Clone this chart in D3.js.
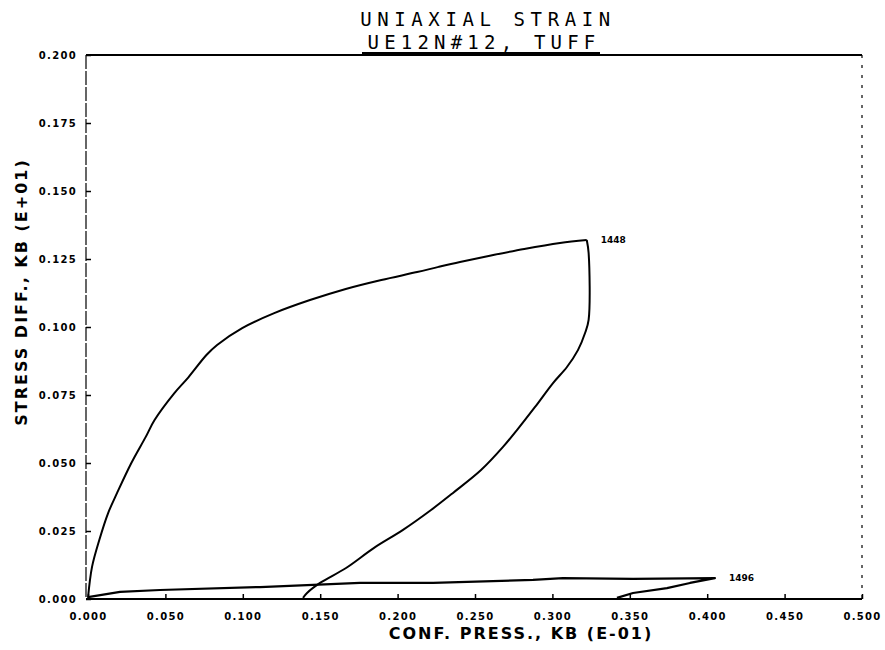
<!DOCTYPE html>
<html>
<head>
<meta charset="utf-8">
<script src="https://cdn.jsdelivr.net/npm/d3@7"></script>
<style>
  html, body { margin: 0; padding: 0; background: #fff; }
  svg { display: block; }
</style>
</head>
<body>
<svg id="chart" width="885" height="650"></svg>
<script>
// ---- data (conf. press. KB E-01, stress diff. KB E+01) ----
const xTicks = [0.000, 0.050, 0.100, 0.150, 0.200, 0.250, 0.300, 0.350, 0.400, 0.450, 0.500];
const yTicks = [0.000, 0.025, 0.050, 0.075, 0.100, 0.125, 0.150, 0.175, 0.200];
const xTickLabels = ["0.000","0.050","0.100","0.150","0.200","0.250","0.300","0.350","0.400","0.450","0.500"];
const yTickLabels = ["0.000","0.025","0.050","0.075","0.100","0.125","0.150","0.175","0.200"];

// loading branch up to point 1448
const loadPress = [0.0000,0.0026,0.0073,0.0130,0.0188,0.0280,0.0373,0.0430,0.0558,0.0650,0.0765,0.0834,0.0996,0.1203,0.1434,0.1665,0.1895,0.2126,0.2265,0.2403,0.2588,0.2818,0.3049,0.3222];
const loadStress = [0.0004,0.0118,0.0217,0.0316,0.0390,0.0500,0.0596,0.0658,0.0757,0.0816,0.0897,0.0934,0.0996,0.1051,0.1099,0.1140,0.1173,0.1202,0.1221,0.1239,0.1261,0.1287,0.1309,0.1320];
// unloading branch from point 1448
const unloadPress = [0.3222,0.3234,0.3234,0.3211,0.3165,0.3094,0.3004,0.2888,0.2771,0.2681,0.2539,0.2358,0.2216,0.2035,0.1848,0.1667,0.1499,0.1415,0.1389];
const unloadStress = [0.1320,0.1272,0.1026,0.0978,0.0915,0.0853,0.0794,0.0706,0.0621,0.0559,0.0474,0.0390,0.0327,0.0254,0.0188,0.0114,0.0059,0.0022,0.0004];
// low stress loop out to point 1496
const lowPress = [0.0000,0.0207,0.0465,0.1111,0.1757,0.2229,0.2875,0.3068,0.3521,0.4050,0.3889,0.3740,0.3521,0.3417];
const lowStress = [0.0007,0.0026,0.0033,0.0044,0.0059,0.0059,0.0070,0.0077,0.0074,0.0077,0.0059,0.0040,0.0022,0.0004];

const pointLabels = [
  {text: "1448", x: 0.3222, y: 0.1320},
  {text: "1496", x: 0.4050, y: 0.0077}
];

const titleLines = ["UNIAXIAL STRAIN", "UE12N#12, TUFF"];
const xTitle = "CONF. PRESS., KB (E-01)";
const yTitle = "STRESS DIFF., KB (E+01)";

// ---- drawing ----
const svg = d3.select("#chart");
const x = d3.scaleLinear().domain([0, 0.5]).range([88, 862]);
const y = d3.scaleLinear().domain([0, 0.2]).range([599, 55]);

// frame
const frame = svg.append("g").attr("stroke", "#000").attr("fill", "none");
frame.append("line").attr("x1", x(0) - 2).attr("x2", x(0.5)).attr("y1", y(0.2)).attr("y2", y(0.2)).attr("stroke-width", 1.8);
frame.append("line").attr("x1", x(0) - 2).attr("x2", x(0.5)).attr("y1", y(0)).attr("y2", y(0)).attr("stroke-width", 1.8);
frame.append("line").attr("x1", x(0) - 2).attr("x2", x(0) - 2).attr("y1", y(0.2)).attr("y2", y(0)).attr("stroke-width", 1.2).attr("stroke-dasharray", "14,2");
frame.append("line").attr("x1", x(0.5)).attr("x2", x(0.5)).attr("y1", y(0.2)).attr("y2", y(0)).attr("stroke-width", 1.2).attr("stroke-dasharray", "3,7");

// y axis
const yAxis = d3.axisLeft(y).tickValues(yTicks)
  .tickFormat((d, i) => yTickLabels[i]).tickSizeInner(-5).tickSizeOuter(0).tickPadding(9);
const gy = svg.append("g").attr("transform", `translate(${x(0) - 2},0)`).call(yAxis);
gy.select(".domain").remove();
gy.selectAll(".tick line").attr("stroke", "#000").attr("stroke-width", 1.5);
gy.selectAll(".tick text").attr("font-family", "DejaVu Sans").attr("font-weight", "bold")
  .attr("font-size", 10).attr("letter-spacing", "1.3px").attr("fill", "#000");

// x axis
const xAxis = d3.axisBottom(x).tickValues(xTicks)
  .tickFormat((d, i) => xTickLabels[i]).tickSizeInner(-5).tickSizeOuter(0).tickPadding(14);
const gx = svg.append("g").attr("transform", `translate(0,${y(0)})`).call(xAxis);
gx.select(".domain").remove();
gx.selectAll(".tick line").attr("stroke", "#000").attr("stroke-width", 1.5);
gx.selectAll(".tick text").attr("font-family", "DejaVu Sans").attr("font-weight", "bold")
  .attr("font-size", 10).attr("letter-spacing", "1.3px").attr("fill", "#000");

// data lines
const zip = (a, b) => a.map((p, i) => [p, b[i]]);
const smooth = d3.line().x(d => x(d[0])).y(d => y(d[1])).curve(d3.curveCatmullRom.alpha(0.5));
const straight = d3.line().x(d => x(d[0])).y(d => y(d[1]));
svg.append("path").datum(zip(loadPress, loadStress)).attr("d", smooth)
  .attr("fill", "none").attr("stroke", "#000").attr("stroke-width", 2).attr("stroke-linejoin", "round");
svg.append("path").datum(zip(unloadPress, unloadStress)).attr("d", smooth)
  .attr("fill", "none").attr("stroke", "#000").attr("stroke-width", 2).attr("stroke-linejoin", "round");
svg.append("path").datum(zip(lowPress, lowStress)).attr("d", straight)
  .attr("fill", "none").attr("stroke", "#000").attr("stroke-width", 2.2).attr("stroke-linejoin", "round");

// point labels
svg.selectAll(".plabel").data(pointLabels).enter().append("text")
  .attr("x", d => x(d.x) + 14).attr("y", d => y(d.y) + 3)
  .attr("font-family", "DejaVu Sans").attr("font-weight", "bold").attr("font-size", 9)
  .attr("fill", "#000").text(d => d.text);

// titles
svg.append("text").attr("x", 488).attr("y", 26).attr("text-anchor", "middle")
  .attr("font-family", "DejaVu Sans Mono").attr("font-size", 19).attr("letter-spacing", "5.6px")
  .attr("fill", "#000").text(titleLines[0]);
svg.append("text").attr("x", 484).attr("y", 48.5).attr("text-anchor", "middle")
  .attr("font-family", "DejaVu Sans Mono").attr("font-size", 19).attr("letter-spacing", "5.2px")
  .attr("fill", "#000").text(titleLines[1]);
svg.append("line").attr("x1", 362).attr("x2", 600).attr("y1", 53).attr("y2", 53)
  .attr("stroke", "#000").attr("stroke-width", 2);

// axis titles
svg.append("text").attr("x", 521).attr("y", 639).attr("text-anchor", "middle")
  .attr("font-family", "DejaVu Sans").attr("font-weight", "bold").attr("font-size", 16)
  .attr("letter-spacing", "2px").attr("fill", "#000").text(xTitle);
svg.append("text").attr("transform", "translate(27,292) rotate(-90)").attr("text-anchor", "middle")
  .attr("font-family", "DejaVu Sans").attr("font-weight", "bold").attr("font-size", 16)
  .attr("letter-spacing", "2px").attr("fill", "#000").text(yTitle);
</script>
</body>
</html>
